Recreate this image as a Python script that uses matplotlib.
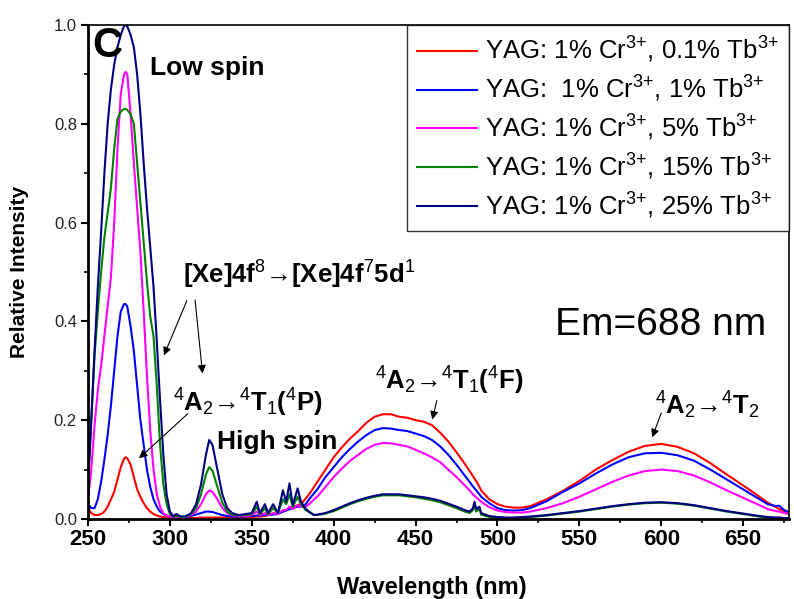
import matplotlib
matplotlib.use("Agg")
import matplotlib.pyplot as plt
from matplotlib.ticker import MultipleLocator

plt.rcParams['font.family'] = ['Liberation Sans', 'DejaVu Sans']
plt.rcParams['mathtext.fontset'] = 'custom'
plt.rcParams['mathtext.rm'] = 'Liberation Sans'
plt.rcParams['mathtext.bf'] = 'Liberation Sans:bold'
plt.rcParams['mathtext.it'] = 'Liberation Sans:italic'

# wavelength grid (nm)
wavelength = [250, 252, 254, 256, 258, 260, 262, 264, 266, 268, 270, 272, 273, 274, 276, 278, 280, 282, 284, 286, 288, 290, 292, 294, 296, 298, 300,
              302, 304, 306, 308, 310, 313, 316, 319, 322, 324, 326, 329, 332, 335, 338, 342, 346, 350, 353, 355, 358, 360, 363, 366, 369, 371, 373, 375, 378, 380, 383, 385, 388,
              390, 395, 400, 405, 410, 415, 420, 425, 430, 435, 440, 445, 450, 455, 460, 465, 470, 475, 480, 483, 485, 486, 487, 489, 490, 495, 500, 505, 510, 515, 520,
              530, 540, 550, 560, 570, 580, 590, 600, 610, 620, 630, 640, 650, 660, 665, 670, 672, 675, 678]

tb_01 = [0.022, 0.012, 0.008, 0.008, 0.01, 0.015, 0.025, 0.04, 0.055, 0.08, 0.105, 0.122, 0.125, 0.123, 0.11, 0.085, 0.06, 0.045, 0.032, 0.022, 0.015, 0.01, 0.007, 0.005, 0.004, 0.003, 0.002,
         0.002, 0.002, 0.002, 0.002, 0.002, 0.002, 0.002, 0.003, 0.003, 0.003, 0.003, 0.003, 0.003, 0.003, 0.003, 0.003, 0.004, 0.004, 0.005, 0.005, 0.006, 0.008, 0.01, 0.012, 0.016, 0.018, 0.022, 0.024, 0.028, 0.03, 0.042, 0.05, 0.065,
         0.075, 0.1, 0.125, 0.145, 0.163, 0.178, 0.195, 0.207, 0.212, 0.212, 0.207, 0.205, 0.2, 0.197, 0.19, 0.175, 0.157, 0.135, 0.112, 0.097, 0.087, 0.082, 0.077, 0.065, 0.058, 0.04, 0.03, 0.025, 0.023, 0.023, 0.026,
         0.04, 0.057, 0.077, 0.1, 0.119, 0.136, 0.148, 0.152, 0.146, 0.133, 0.113, 0.09, 0.068, 0.045, 0.033, 0.024, 0.02, 0.016, 0.012]

tb_1 = [0.03, 0.022, 0.022, 0.04, 0.075, 0.12, 0.17, 0.23, 0.3, 0.37, 0.42, 0.435, 0.435, 0.43, 0.39, 0.34, 0.27, 0.2, 0.15, 0.1, 0.065, 0.04, 0.025, 0.015, 0.01, 0.007, 0.005,
        0.004, 0.004, 0.004, 0.004, 0.004, 0.006, 0.009, 0.012, 0.015, 0.015, 0.014, 0.011, 0.008, 0.006, 0.005, 0.005, 0.005, 0.006, 0.007, 0.007, 0.008, 0.008, 0.009, 0.01, 0.015, 0.017, 0.02, 0.022, 0.025, 0.025, 0.03, 0.04, 0.052,
        0.06, 0.085, 0.105, 0.125, 0.142, 0.157, 0.17, 0.18, 0.184, 0.183, 0.18, 0.178, 0.173, 0.168, 0.16, 0.147, 0.13, 0.11, 0.088, 0.075, 0.066, 0.062, 0.058, 0.05, 0.045, 0.032, 0.022, 0.018, 0.017, 0.018, 0.022,
        0.036, 0.055, 0.072, 0.092, 0.11, 0.125, 0.133, 0.134, 0.129, 0.118, 0.1, 0.08, 0.06, 0.04, 0.03, 0.026, 0.027, 0.018, 0.014]

tb_5 = [0.04, 0.1, 0.19, 0.26, 0.31, 0.37, 0.43, 0.49, 0.6, 0.75, 0.86, 0.9, 0.905, 0.9, 0.82, 0.72, 0.63, 0.54, 0.42, 0.29, 0.18, 0.1, 0.05, 0.025, 0.012, 0.007, 0.005,
        0.004, 0.004, 0.004, 0.004, 0.004, 0.008, 0.015, 0.03, 0.05, 0.058, 0.055, 0.04, 0.022, 0.012, 0.008, 0.006, 0.006, 0.008, 0.015, 0.008, 0.012, 0.008, 0.012, 0.01, 0.018, 0.018, 0.025, 0.02, 0.028, 0.025, 0.025, 0.03, 0.04,
        0.045, 0.065, 0.085, 0.102, 0.118, 0.13, 0.142, 0.15, 0.154, 0.153, 0.15, 0.147, 0.14, 0.133, 0.125, 0.115, 0.1, 0.085, 0.068, 0.058, 0.05, 0.047, 0.044, 0.038, 0.035, 0.024, 0.017, 0.014, 0.013, 0.013, 0.015,
        0.022, 0.032, 0.045, 0.06, 0.075, 0.088, 0.097, 0.1, 0.097, 0.088, 0.074, 0.058, 0.043, 0.028, 0.02, 0.016, 0.015, 0.012, 0.01]

tb_15 = [0.08, 0.2, 0.33, 0.42, 0.5, 0.57, 0.62, 0.67, 0.75, 0.81, 0.825, 0.83, 0.83, 0.828, 0.82, 0.8, 0.72, 0.64, 0.56, 0.48, 0.41, 0.37, 0.27, 0.15, 0.07, 0.03, 0.01,
         0.005, 0.006, 0.005, 0.004, 0.005, 0.01, 0.022, 0.05, 0.09, 0.105, 0.098, 0.065, 0.033, 0.015, 0.009, 0.007, 0.008, 0.01, 0.025, 0.01, 0.022, 0.01, 0.022, 0.012, 0.04, 0.03, 0.05, 0.025, 0.045, 0.03, 0.018, 0.014, 0.008,
         0.008, 0.011, 0.016, 0.023, 0.03, 0.036, 0.041, 0.045, 0.048, 0.048, 0.048, 0.046, 0.044, 0.041, 0.038, 0.034, 0.028, 0.022, 0.015, 0.012, 0.018, 0.03, 0.015, 0.02, 0.009, 0.004, 0.003, 0.002, 0.002, 0.003, 0.004,
         0.007, 0.011, 0.015, 0.02, 0.025, 0.029, 0.032, 0.033, 0.031, 0.027, 0.021, 0.015, 0.01, 0.005, 0.003, 0.002, 0.002, 0.002, 0.002]

tb_25 = [0.06, 0.2, 0.34, 0.47, 0.58, 0.7, 0.8, 0.87, 0.92, 0.955, 0.98, 0.998, 1.0, 0.997, 0.98, 0.955, 0.9, 0.82, 0.72, 0.63, 0.55, 0.47, 0.36, 0.24, 0.13, 0.05, 0.015,
         0.006, 0.01, 0.006, 0.005, 0.006, 0.012, 0.03, 0.07, 0.13, 0.16, 0.15, 0.1, 0.05, 0.022, 0.012, 0.008, 0.01, 0.012, 0.035, 0.012, 0.03, 0.012, 0.03, 0.012, 0.058, 0.035, 0.072, 0.028, 0.062, 0.035, 0.02, 0.015, 0.008,
         0.009, 0.012, 0.018, 0.025, 0.032, 0.038, 0.043, 0.047, 0.05, 0.05, 0.05, 0.048, 0.046, 0.044, 0.041, 0.037, 0.031, 0.025, 0.018, 0.015, 0.022, 0.035, 0.02, 0.025, 0.012, 0.006, 0.004, 0.003, 0.003, 0.004, 0.005,
         0.008, 0.012, 0.016, 0.021, 0.026, 0.03, 0.033, 0.034, 0.032, 0.028, 0.022, 0.016, 0.011, 0.006, 0.004, 0.003, 0.003, 0.002, 0.002]

labels = [r'YAG: 1% Cr$^{3{+}}$, 0.1% Tb$^{3{+}}$',
          r'YAG:  1% Cr$^{3{+}}$, 1% Tb$^{3{+}}$',
          r'YAG: 1% Cr$^{3{+}}$, 5% Tb$^{3{+}}$',
          r'YAG: 1% Cr$^{3{+}}$, 15% Tb$^{3{+}}$',
          r'YAG: 1% Cr$^{3{+}}$, 25% Tb$^{3{+}}$']
series = [tb_01, tb_1, tb_5, tb_15, tb_25]
colors = ['#ff0000', '#0000ff', '#ff00ff', '#008000', '#000080']

fig = plt.figure(figsize=(7.94, 5.99), dpi=100)
ax = fig.add_axes([88 / 794, 80 / 599, 701 / 794, 494 / 599])

for y, c, lab in zip(series, colors, labels):
    ax.plot(wavelength, y, color=c, lw=1.5, label=lab)

ax.set_xlim(250, 678)
ax.set_ylim(0, 1.0)
ax.xaxis.set_major_locator(MultipleLocator(50))
ax.xaxis.set_minor_locator(MultipleLocator(25))
ax.yaxis.set_major_locator(MultipleLocator(0.2))
ax.yaxis.set_minor_locator(MultipleLocator(0.1))
ax.yaxis.set_major_formatter(plt.FormatStrFormatter('%.1f'))
ax.tick_params(which='major', direction='out', length=5, width=1.5)
ax.tick_params(which='minor', direction='out', length=3, width=1.2)
ax.tick_params(axis='x', labelsize=16, pad=2)
ax.tick_params(axis='y', labelsize=12, labelcolor='#222222', pad=3)
for lbl in ax.get_xticklabels():
    lbl.set_fontweight('bold')
for s in ['left', 'bottom']:
    ax.spines[s].set_linewidth(2)
for s in ['top', 'right']:
    ax.spines[s].set_linewidth(1.2)

fig.text(20 / 794, 1 - 272 / 599, 'Relative Intensity', rotation=90, fontsize=15,
         fontweight='bold', ha='center', va='center')
fig.text(432 / 794, 1 - 576 / 599, 'Wavelength (nm)', fontsize=17,
         fontweight='bold', ha='center', va='top')

leg = ax.legend(loc='upper right', bbox_to_anchor=(1, 1), borderaxespad=0,
                fontsize=18.5, frameon=True, fancybox=False, edgecolor='black',
                handlelength=2.35, handletextpad=0.3, labelspacing=0.34,
                borderpad=0.4)
leg.get_frame().set_linewidth(1.0)

ax.text(252.5, 0.958, 'C', fontsize=30, fontweight='bold', ha='left', va='center')
ax.text(288, 0.912, 'Low spin', fontsize=19, fontweight='bold', ha='left', va='center')
ax.text(308, 0.495, r'[Xe]4f$^8$→[Xe]4f$^7$5d$^1$', fontsize=18.5, fontweight='bold',
        ha='left', va='center')
ax.text(302, 0.235, r'$^4$A$_2$→$^4$T$_1$($^4$P)', fontsize=18.5, fontweight='bold',
        ha='left', va='center')
ax.text(329, 0.156, 'High spin', fontsize=19, fontweight='bold', ha='left', va='center')
ax.text(425, 0.28, r'$^4$A$_2$→$^4$T$_1$($^4$F)', fontsize=18.5, fontweight='bold',
        ha='left', va='center')
ax.text(596, 0.23, r'$^4$A$_2$→$^4$T$_2$', fontsize=18.5, fontweight='bold',
        ha='left', va='center')
ax.text(535, 0.393, 'Em=688 nm', fontsize=28, ha='left', va='center')

arrow = dict(arrowstyle='-|>', color='black', lw=0.8, mutation_scale=12)
ax.annotate('', xy=(295.7, 0.326), xytext=(311, 0.447), arrowprops=arrow)
ax.annotate('', xy=(320.1, 0.289), xytext=(315.2, 0.449), arrowprops=arrow)
ax.annotate('', xy=(279.9, 0.119), xytext=(312.2, 0.217), arrowprops=arrow)
ax.annotate('', xy=(459.8, 0.196), xytext=(463.4, 0.245), arrowprops=arrow)
ax.annotate('', xy=(593.9, 0.16), xytext=(600.6, 0.22), arrowprops=arrow)

fig.savefig('out.png', dpi=100)
